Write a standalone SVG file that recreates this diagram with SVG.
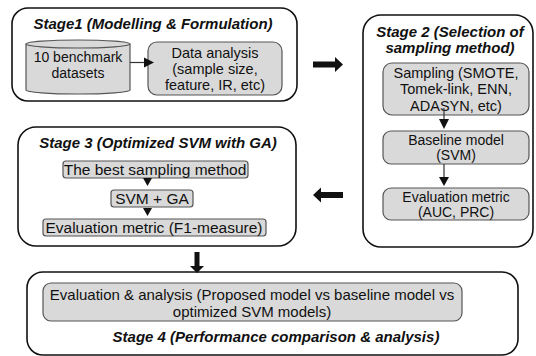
<svg xmlns="http://www.w3.org/2000/svg" width="536" height="356" viewBox="0 0 536 356">
<defs>
<style>
.stage{fill:#fff;stroke:#111;stroke-width:1.6}
.box{fill:#d9d9d9;stroke:#555;stroke-width:1.2}
.t{font-family:"Liberation Sans",Arial,sans-serif;font-size:15.5px;fill:#111;text-anchor:middle}
.m{font-size:14.5px}
.s{font-size:14px}
.h{font-family:"Liberation Sans",Arial,sans-serif;font-size:15px;font-weight:bold;font-style:italic;fill:#111;text-anchor:middle}
.ln{stroke:#333;stroke-width:1.2;fill:none}
.hd{fill:#111}
</style>
</defs>
<rect width="536" height="356" fill="#fff"/>

<g id="stage1">
<rect class="stage" x="12" y="8" width="285" height="93" rx="16"/>
<text class="h" x="153" y="29">Stage1 (Modelling &amp; Formulation)</text>
</g>
<g id="datasets">
<path class="box" d="M26,44 L26,90 A52,4 0 0 0 130,90 L130,44 A52,4 0 0 0 26,44 Z"/>
<path d="M26,44 A52,4 0 0 0 130,44" fill="none" stroke="#555" stroke-width="1.2"/>
<text class="t s" x="78" y="62">10 benchmark</text>
<text class="t s" x="78" y="77.7">datasets</text>
</g>
<g id="data-analysis">
<rect class="box" x="148" y="42" width="134" height="53" rx="9"/>
<text class="t m" x="215" y="57.5">Data analysis</text>
<text class="t m" x="215" y="73.8">(sample size,</text>
<text class="t m" x="215" y="90.1">feature, IR, etc)</text>
</g>

<g id="stage2">
<rect class="stage" x="363" y="15" width="170" height="232" rx="18"/>
<text class="h" x="450" y="37">Stage 2 (Selection of</text>
<text class="h" x="450" y="53">sampling method)</text>
</g>
<g id="sampling">
<rect class="box" x="383" y="63" width="146" height="52" rx="9"/>
<text class="t m" x="456" y="78">Sampling (SMOTE,</text>
<text class="t m" x="456" y="94.3">Tomek-link, ENN,</text>
<text class="t m" x="456" y="110.6">ADASYN, etc)</text>
</g>
<g id="baseline">
<rect class="box" x="383" y="131" width="146" height="33" rx="8"/>
<text class="t s" x="456" y="144.5">Baseline model</text>
<text class="t s" x="456" y="160.3">(SVM)</text>
</g>
<g id="eval2">
<rect class="box" x="383" y="188" width="146" height="32" rx="8"/>
<text class="t s" x="456" y="201.5">Evaluation metric</text>
<text class="t s" x="456" y="217.2">(AUC, PRC)</text>
</g>

<g id="stage3">
<rect class="stage" x="18" y="127" width="278" height="119" rx="18"/>
<text class="h" x="158" y="148">Stage 3 (Optimized SVM with GA)</text>
</g>
<g id="best-sampling">
<rect class="box" x="63" y="161" width="185" height="17" rx="3"/>
<text class="t" x="155" y="175">The best sampling method</text>
</g>
<g id="svm-ga">
<rect class="box" x="111" y="190" width="82" height="17" rx="3"/>
<text class="t" x="152" y="204">SVM + GA</text>
</g>
<g id="eval3">
<rect class="box" x="43" y="219" width="223" height="17" rx="3"/>
<text class="t" x="154" y="233">Evaluation metric (F1-measure)</text>
</g>

<g id="stage4">
<rect class="stage" x="27" y="272" width="491" height="83" rx="16"/>
<text class="h" x="276" y="342">Stage 4 (Performance comparison &amp; analysis)</text>
</g>
<g id="eval4">
<rect class="box" x="43" y="283" width="419" height="38" rx="8"/>
<text class="t" x="252" y="299.5" style="font-size:15px">Evaluation &amp; analysis (Proposed model vs baseline model vs</text>
<text class="t" x="252" y="316.7" style="font-size:15px">optimized SVM models)</text>
</g>

<g id="connectors">
<line class="ln" x1="130" y1="62.5" x2="146" y2="62.5"/>
<polygon class="hd" points="144,57.5 154,62.5 144,67.5"/>
<line class="ln" x1="444" y1="108" x2="444" y2="120"/>
<polygon class="hd" points="439,119 449,119 444,129"/>
<line class="ln" x1="444" y1="164" x2="444" y2="178"/>
<polygon class="hd" points="439,177 449,177 444,186"/>
<polygon class="hd" points="143,178 152,178 147.5,186"/>
<polygon class="hd" points="143,208 152,208 147.5,216"/>
<polygon class="hd" points="313,61.5 335,61.5 335,57 343,64.5 335,72 335,67.5 313,67.5"/>
<polygon class="hd" points="343,192 321,192 321,187.5 313,195 321,202.5 321,198 343,198"/>
<polygon class="hd" points="194.5,252 199.5,252 199.5,266 204,266 197,273 190,266 194.5,266"/>
</g>
</svg>
